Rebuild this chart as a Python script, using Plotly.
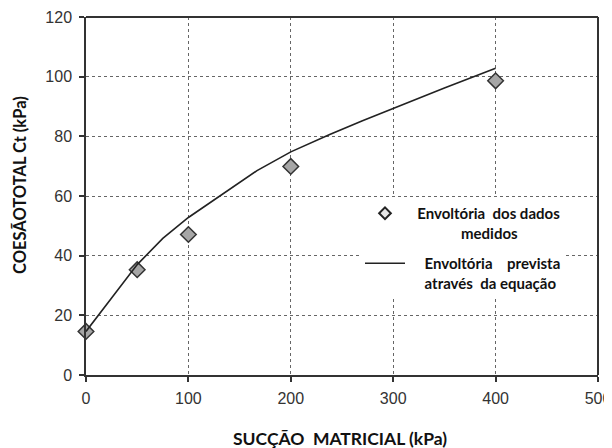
import plotly.graph_objects as go

# Measured data (diamonds)
suction_measured = [0, 50, 100, 200, 400]
cohesion_measured = [14.6, 35.3, 47.1, 69.9, 98.6]

# Predicted envelope (curve)
suction_pred = [0, 10, 25, 50, 75, 100, 133, 167, 200, 238, 270, 300, 350, 400]
cohesion_pred = [14.6, 19.0, 25.8, 37.0, 45.8, 52.8, 60.5, 68.5, 74.8, 80.6, 85.2, 89.4, 96.2, 102.8]

x_ticks = [0, 100, 200, 300, 400, 500]
y_ticks = [0, 20, 40, 60, 80, 100, 120]

NB = "\u00a0"
name_measured = NB * 2 + "Envoltória" + NB * 2 + "dos dados<br>" + NB * 14 + "medidos"
name_pred = NB * 4 + "Envoltória" + NB * 4 + "prevista<br>" + NB * 4 + "através" + NB * 2 + "da equação"

# page offset: the browser body has an 8px margin, so the figure is 8px smaller
W, H = 604, 440
PL, PT = 86 - 8, 17 - 8
PR, PB = 14, 73

fig = go.Figure()
fig.add_trace(go.Scatter(
    x=suction_measured, y=cohesion_measured, mode="markers",
    showlegend=False,
    marker=dict(symbol="diamond", size=12, color="#a6a6a6",
                line=dict(color="#333333", width=1.5)),
    cliponaxis=False,
))
fig.add_trace(go.Scatter(
    x=suction_pred, y=cohesion_pred, mode="lines",
    name=name_pred, legendgroup="b", legendrank=2,
    line=dict(color="#222222", width=1.6),
))
# legend-only entry for the measured points (smaller, lighter symbol as in the key)
fig.add_trace(go.Scatter(
    x=[None], y=[None], mode="markers",
    name=name_measured, legendgroup="a", legendrank=1,
    marker=dict(symbol="diamond", size=9, color="#e6e6e6",
                line=dict(color="#222222", width=2)),
))

axis_common = dict(
    showline=True, linecolor="#333333", linewidth=1.5, mirror=False,
    ticks="outside", ticklen=5, tickcolor="#333333", tickwidth=1.5,
    showgrid=True, gridcolor="#666666", gridwidth=1, griddash="3px,3px",
    zeroline=False, automargin=False,
    tickfont=dict(family="Liberation Sans, Arial, sans-serif", size=16, color="#333333"),
)

pw = 512.0
ph = 358.0

fig.update_layout(
    width=W, height=H,
    margin=dict(l=PL, r=PR, t=PT, b=PB),
    paper_bgcolor="white", plot_bgcolor="white",
    showlegend=True,
    legend=dict(
        x=(360 - 86) / pw, y=(375 - 197) / ph, xanchor="left", yanchor="top",
        bgcolor="white", borderwidth=0, valign="top",
        traceorder="grouped", tracegroupgap=8,
        font=dict(family="Lato, Open Sans, sans-serif", size=15, color="#111111", weight="bold"),
        itemwidth=40,
    ),
    xaxis=dict(range=[0, 500], tickvals=x_ticks, ticklabelstandoff=3, **axis_common),
    yaxis=dict(range=[0, 120], tickvals=y_ticks, ticklabelstandoff=4, **axis_common),
    annotations=[
        dict(text="SUCÇÃO" + NB * 2 + "MATRICIAL (kPa)", xref="paper", yref="paper",
             x=(340 - 86) / pw, y=(375 - 438) / ph, xanchor="center", yanchor="middle",
             showarrow=False,
             font=dict(family="Lato, Open Sans, sans-serif", size=17.5, color="#111111", weight="bold")),
        dict(text="COESÃOTOTAL Ct (kPa)", xref="paper", yref="paper",
             x=(20 - 86) / pw, y=(375 - 185) / ph, xanchor="center", yanchor="middle",
             textangle=-90, showarrow=False,
             font=dict(family="Lato, Open Sans, sans-serif", size=16.5, color="#111111", weight="bold")),
    ],
)

# top and right frame lines (solid)
fig.add_shape(type="line", xref="paper", yref="paper", x0=0, x1=1, y0=1, y1=1,
              line=dict(color="#333333", width=2))
fig.add_shape(type="line", xref="paper", yref="paper", x0=1, x1=1, y0=0, y1=1,
              line=dict(color="#333333", width=2))

fig.write_html("out.html")
